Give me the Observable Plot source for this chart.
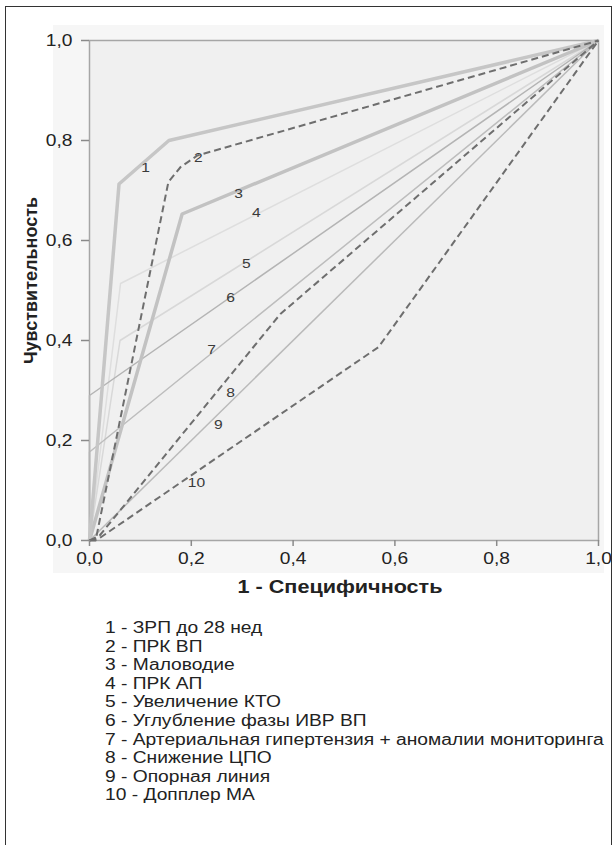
<!DOCTYPE html>
<html>
<head>
<meta charset="utf-8">
<script src="https://cdn.jsdelivr.net/npm/d3@7"></script>
<script src="https://cdn.jsdelivr.net/npm/@observablehq/plot@0.6"></script>
<style>
  html, body { margin: 0; padding: 0; background: #fff; }
  #page { position: relative; width: 614px; height: 845px; overflow: hidden; font-family: "Liberation Sans", Arial, sans-serif; }
  #border { position: absolute; left: 5px; top: 6px; width: 607px; height: 845px; border: 1.5px solid #333; border-bottom: none; box-sizing: border-box; }
  #panel { position: absolute; left: 53px; top: 25px; width: 551px; height: 548px; background: #f6f6f6; }
  #chart { position: absolute; left: 0; top: 0; }
  #legend { position: absolute; left: 105px; top: 619px; font-size: 16px; line-height: 18.6px; color: #222; white-space: nowrap; transform: scaleX(1.2); transform-origin: 0 0; }
</style>
</head>
<body>
<div id="page">
  <div id="panel"></div>
  <div id="chart"></div>
  <div id="legend"></div>
  <div id="border"></div>
</div>
<script>
// ---- data ----
const seriesIds = [1, 2, 3, 4, 5, 6, 7, 8, 9, 10];
const seriesNames = [
  "ЗРП до 28 нед",
  "ПРК ВП",
  "Маловодие",
  "ПРК АП",
  "Увеличение КТО",
  "Углубление фазы ИВР ВП",
  "Артериальная гипертензия + аномалии мониторинга",
  "Снижение ЦПО",
  "Опорная линия",
  "Допплер МА"
];
// 1 - specificity (x) and sensitivity (y) of each ROC curve
const fpr = [
  [0, 0.058, 0.156, 1],
  [0, 0.012, 0.155, 0.179, 0.212, 1],
  [0, 0.182, 1],
  [0, 0.061, 1],
  [0, 0.06, 1],
  [0, 0, 1],
  [0, 0, 1],
  [0, 0.02, 0.375, 1],
  [0, 1],
  [0, 0.02, 0.568, 1]
];
const tpr = [
  [0, 0.713, 0.80, 1],
  [0, 0, 0.717, 0.747, 0.77, 1],
  [0, 0.653, 1],
  [0, 0.514, 1],
  [0, 0.40, 1],
  [0, 0.29, 1],
  [0, 0.177, 1],
  [0, 0.01, 0.453, 1],
  [0, 1],
  [0, 0.005, 0.387, 1]
];
// curve number labels
const labelX = [0.110, 0.214, 0.293, 0.328, 0.308, 0.277, 0.240, 0.277, 0.253, 0.210];
const labelY = [0.746, 0.766, 0.694, 0.656, 0.554, 0.486, 0.382, 0.296, 0.232, 0.116];
const axisTicks = [0, 0.2, 0.4, 0.6, 0.8, 1.0];
const xTitle = "1 - Специфичность";
const yTitle = "Чувствительность";

// ---- styles (by series id) ----
const style = {
  1: {stroke: "#c6c6c6", strokeWidth: 3.5},
  2: {stroke: "#6e6e6e", strokeWidth: 2, strokeDasharray: "7,4"},
  3: {stroke: "#c2c2c2", strokeWidth: 3.5},
  4: {stroke: "#dedede", strokeWidth: 1.5},
  5: {stroke: "#d8d8d8", strokeWidth: 1.5},
  6: {stroke: "#b4b4b4", strokeWidth: 1.5},
  7: {stroke: "#bdbdbd", strokeWidth: 1.5},
  8: {stroke: "#6e6e6e", strokeWidth: 2, strokeDasharray: "7,4"},
  9: {stroke: "#bababa", strokeWidth: 1.5},
  10: {stroke: "#6e6e6e", strokeWidth: 2, strokeDasharray: "7,4"}
};
const drawOrder = [4, 5, 9, 7, 6, 3, 1, 10, 8, 2];

const fmt = d => d.toFixed(1).replace(".", ",");

const lineMarks = drawOrder.map(id => {
  const i = id - 1;
  const pts = fpr[i].map((x, k) => ({x, y: tpr[i][k]}));
  return Plot.line(pts, {x: "x", y: "y", ...style[id], strokeLinejoin: "round", strokeLinecap: "butt"});
});

const labelData = seriesIds.map((id, i) => ({id: String(id), x: labelX[i], y: labelY[i]}));

const chart = Plot.plot({
  width: 614,
  height: 612,
  marginLeft: 89,
  marginRight: 16,
  marginTop: 40,
  marginBottom: 72,
  style: {fontFamily: "'Liberation Sans', Arial, sans-serif", background: "transparent", color: "#222", overflow: "visible"},
  x: {domain: [0, 1]},
  y: {domain: [0, 1]},
  marks: [
    Plot.frame({fill: "#f0f0f0", stroke: "#a6a6a6", strokeWidth: 1.5}),
    ...lineMarks,
    Plot.text(labelData, {x: "x", y: "y", text: "id", fontSize: 13, fill: "#3a3a3a"}),
    Plot.axisX({ticks: axisTicks, tickFormat: fmt, tickSize: 6, tickPadding: 6, fontSize: 16, stroke: "#8a8a8a", strokeWidth: 1.5, fill: "#222", label: null}),
    Plot.axisY({ticks: axisTicks, tickFormat: fmt, tickSize: 8, tickPadding: 9, fontSize: 16, stroke: "#8a8a8a", strokeWidth: 1.5, fill: "#222", label: null}),
    Plot.text([xTitle], {frameAnchor: "bottom", dy: 52, dx: -4, fontSize: 18, fontWeight: "bold", fill: "#222"}),
    Plot.text([yTitle], {frameAnchor: "left", textAnchor: "middle", dx: -58, dy: -10, rotate: -90, fontSize: 18, fontWeight: "bold", fill: "#222"})
  ]
});

// the printed figure uses horizontally widened lettering: widen each label about its anchor
chart.querySelectorAll("text").forEach(t => {
  let tr = t.getAttribute("transform");
  if (tr && tr.includes("rotate")) return;
  if (!tr) {
    const x = +t.getAttribute("x") || 0, y = +t.getAttribute("y") || 0;
    t.removeAttribute("x"); t.removeAttribute("y");
    tr = `translate(${x},${y})`;
  }
  t.setAttribute("transform", tr + " scale(1.2,1)");
});
document.getElementById("chart").appendChild(chart);

const legend = document.getElementById("legend");
seriesIds.forEach((id, i) => {
  const div = document.createElement("div");
  div.textContent = id + " - " + seriesNames[i];
  legend.appendChild(div);
});
</script>
</body>
</html>
